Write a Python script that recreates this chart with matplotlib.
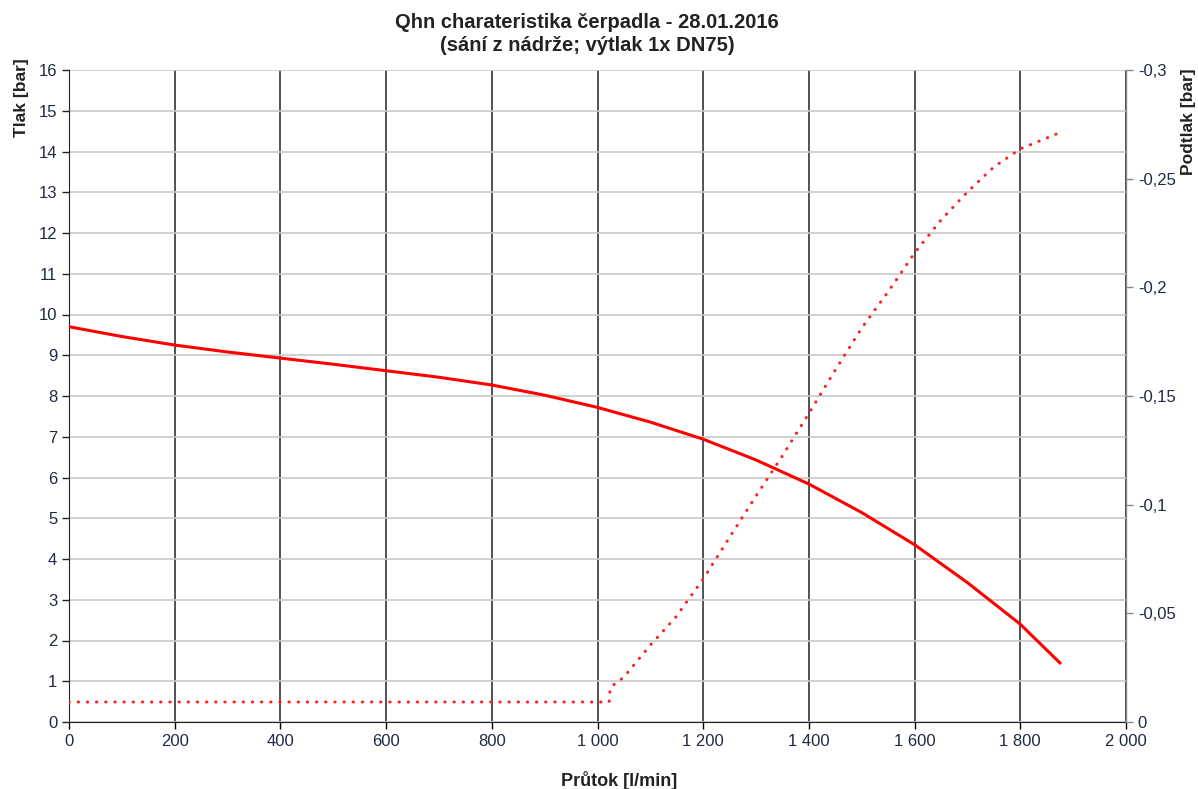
import matplotlib.pyplot as plt
from matplotlib.ticker import FuncFormatter, MultipleLocator

plt.rcParams['font.family'] = ['Liberation Sans', 'DejaVu Sans']

# Qh charakteristika - tlak [bar]
prutok = [0, 100, 200, 300, 400, 500, 600, 700, 800, 900, 1000, 1100, 1200,
          1300, 1400, 1500, 1600, 1700, 1800, 1875]
tlak = [9.7, 9.46, 9.25, 9.08, 8.93, 8.78, 8.62, 8.46, 8.27, 8.02, 7.72, 7.36,
        6.94, 6.43, 5.84, 5.14, 4.35, 3.42, 2.4, 1.45]

# podtlak na sani [bar]
prutok_s = [0, 1022, 1024, 1030, 1050, 1100, 1147, 1200, 1250, 1300, 1350,
            1400, 1450, 1500, 1550, 1600, 1650, 1700, 1750, 1800, 1869]
podtlak = [-0.0092, -0.0092, -0.0155, -0.017, -0.0207, -0.0354, -0.0479,
           -0.0658, -0.085, -0.104, -0.1225, -0.142, -0.162, -0.1813, -0.198,
           -0.2158, -0.231, -0.2439, -0.2554, -0.2637, -0.2706]

tick_col = '#1f2a44'
text_col = '#222222'

fig = plt.figure(figsize=(11.98, 7.89), dpi=100)
ax = fig.add_axes([69 / 1198, 67 / 789, 1057 / 1198, 652 / 789])
ax2 = ax.twinx()

ax.plot(prutok, tlak, color='#ff0000', lw=2.2, zorder=5)
ax2.plot(prutok_s, podtlak, color='#ff2020', lw=2.2, ls=(0, (0.1, 2.9)),
         dash_capstyle='round', zorder=5)

ax.set_xlim(0, 2000)
ax.set_ylim(0, 16)
ax2.set_ylim(0, -0.3)

ax.xaxis.set_major_locator(MultipleLocator(200))
ax.yaxis.set_major_locator(MultipleLocator(1))
ax2.yaxis.set_major_locator(MultipleLocator(0.05))
ax.xaxis.set_major_formatter(FuncFormatter(lambda v, p: f'{int(v):,}'.replace(',', ' ')))
ax2.yaxis.set_major_formatter(FuncFormatter(
    lambda v, p: '0' if abs(v) < 1e-9 else f'{v:g}'.replace('.', ',')))

ax.grid(axis='x', color='#222222', lw=1.1)
ax.grid(axis='y', color='#c8c8c8', lw=1.2)
ax.set_axisbelow(True)

for a in (ax, ax2):
    a.tick_params(labelsize=12, labelcolor=tick_col, length=5, width=1)
ax.spines['top'].set_visible(False)
ax2.spines['top'].set_visible(False)
ax.spines['left'].set_color('#222222')
ax.spines['bottom'].set_color('#222222')
ax2.spines['right'].set_color('#888888')
ax2.spines['left'].set_visible(False)
ax2.spines['bottom'].set_visible(False)
ax.tick_params(axis='y', colors='#222222', labelcolor=tick_col)
ax2.tick_params(axis='y', colors='#888888', labelcolor=tick_col)

ax.set_title('Qhn charateristika čerpadla - 28.01.2016\n(sání z nádrže; výtlak 1x DN75)',
             fontsize=14.5, fontweight='bold', color=text_col, pad=14, x=0.49,
             linespacing=1.25)
ax.set_xlabel('Průtok [l/min]', fontsize=13, fontweight='bold', color=text_col)
ax.xaxis.set_label_coords(0.52, -0.075)
ax.set_ylabel('Tlak [bar]', fontsize=12.5, fontweight='bold', color=text_col)
ax.yaxis.set_label_coords(-0.038, 0.957)
ax2.set_ylabel('Podtlak [bar]', fontsize=12.5, fontweight='bold', color=text_col)
ax2.yaxis.set_label_coords(1.052, 0.92)

fig.savefig('out.png', dpi=100)
